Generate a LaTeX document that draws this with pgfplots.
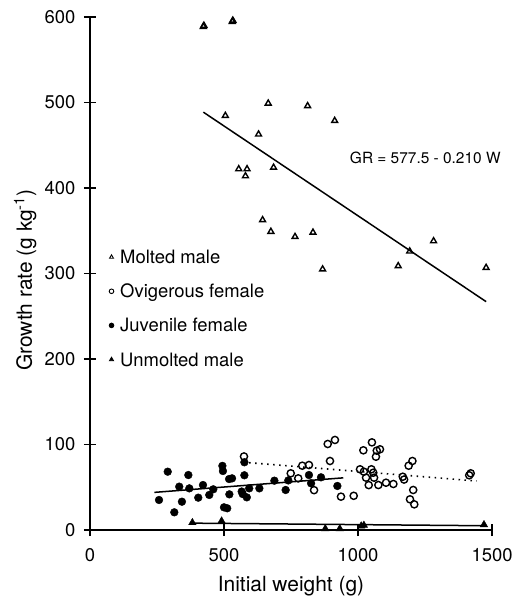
\documentclass[border=0pt]{standalone}
\usepackage{pgfplots}
\pgfplotsset{compat=1.18}
\usepackage{fontspec}
\setmainfont{TeX Gyre Heros}
\pgfplotsset{legmark/.style={legend image code/.code={\path (0bp,0bp) (8bp,0bp);\draw[##1, mark size=2.3bp, line width=0.9bp] plot coordinates {(0bp,0bp)};}}}
\begin{document}
\begin{tikzpicture}
\begin{axis}[
 scale only axis, width=402bp, height=513bp,
 xmin=0, xmax=1500, ymin=0, ymax=600,
 axis lines=left, axis line style={-, line width=1.3bp},
 xtick={0,500,1000,1500}, ytick={0,100,...,600},
 tick align=center, major tick length=12bp, tick style={line width=1.1bp, black},
 /pgf/number format/assume math mode=true,
 /pgf/number format/1000 sep={},
 ticklabel style={font=\fontsize{18.5}{20}\selectfont},
 xticklabel style={yshift=-9bp},
 yticklabel style={xshift=-5bp},
 xlabel={Initial weight (g)}, ylabel={Growth rate (g kg\textsuperscript{-1})},
 label style={font=\fontsize{21}{24}\selectfont},
 xlabel style={at={(axis description cs:0.5,-0.120)}, anchor=base},
 ylabel style={at={(axis description cs:-0.1443,0.487)}, anchor=base, rotate=0},
 clip=false,
 legend style={draw=none, fill=none, inner sep=0pt, at={(axis description cs:0.0473,0.548)}, anchor=north west,
   font=\fontsize{18.5}{21}\selectfont, row sep=18bp, legend cell align=left, nodes={inner sep=0pt}},
]
\coordinate (O) at (axis cs:0,0);
% Molted male
\addplot[only marks, mark=triangle, mark size=3.4bp, line width=1.4bp, black, legmark] coordinates {
(423,588.7) (425,590) (531,594.5) (533,596) (665,499) (812,496) (505,484.6) (913,478.7) (629,462.8)
(555,422.2) (586,422.2) (580,414) (685,424) (644,362.6) (675,349) (765,343) (832,348)
(868,305) (1150,308.8) (1193,326) (1282,338) (1478,306.8)};
\addlegendentry{\strut Molted male}
% Ovigerous female
\addplot[only marks, mark=o, mark size=3.6bp, line width=1.4bp, black, legmark] coordinates {
(574.6,86) (749,66.3) (777,60.4) (792,75.2) (817,76) (836,46.6) (887,100.6) (914,105.3)
(895.5,80.7) (936.5,39) (984,40) (1020,93.2) (1052,102.5) (1070,92.8) (1082,94.4) (1067,85.7)
(1007.5,71) (1022,68.2) (1050,71) (1057,67) (1030,61.2) (1060,61.2) (1040,52.5) (1076,52.6)
(1104.5,55.3) (1132,53.8) (1167,62.3) (1172,59) (1189,75.2) (1203,80.7) (1206,46.8) (1194,35.9)
(1210,30) (1420.5,66.3) (1415,64)};
\addlegendentry{\strut Ovigerous female}
% Juvenile female
\addplot[only marks, mark=*, mark size=3.9bp, black, fill=black, legmark] coordinates {
(257.5,35.1) (290,68.2) (314.6,20.7) (333,50.7) (343,33.1) (367,64.3) (370.6,48.7) (404,37.8)
(421.6,52.6) (445,41) (460,47.6) (494,75) (496,69) (500,26.5) (512,25.4) (519,59.6) (530,60.4)
(520,41.7) (566,45) (570,42) (585,38.2) (576,64) (576,79.2) (594,48.7) (632,48.7) (688,57.7)
(730,46.8) (740,58) (817,64.3) (825,54.6) (862,61.6) (923,51.5)};
\addlegendentry{\strut Juvenile female}
% Unmolted male
\addplot[only marks, mark=triangle*, mark size=4.3bp, black, fill=black, legmark] coordinates {
(382,8.6) (491,10.5) (878,1.5) (932,1.5) (1012,4.7) (1022,5.5) (1470,6.2)};
\addlegendentry{\strut Unmolted male}
% regression lines
\addplot[black, line width=1.5bp, forget plot] coordinates {(423,488.7) (1478,267.1)};
\addplot[black, line width=1.5bp, forget plot] coordinates {(240,44) (945,61)};
\addplot[black, line width=1.6bp, dash pattern=on 1.5bp off 4.5bp, forget plot] coordinates {(594,78.7) (1443,57.3)};
\addplot[black, line width=1.5bp, forget plot] coordinates {(382,8) (1470,5)};
\node[font=\fontsize{15.5}{18}\selectfont, anchor=base west] at (axis cs:957,429) {GR = 577.5 - 0.210 W};
\end{axis}
\pgfresetboundingbox
\path[use as bounding box] ([shift={(-90bp,-77bp)}]O) rectangle ([shift={(434bp,530bp)}]O);
\end{tikzpicture}
\end{document}
